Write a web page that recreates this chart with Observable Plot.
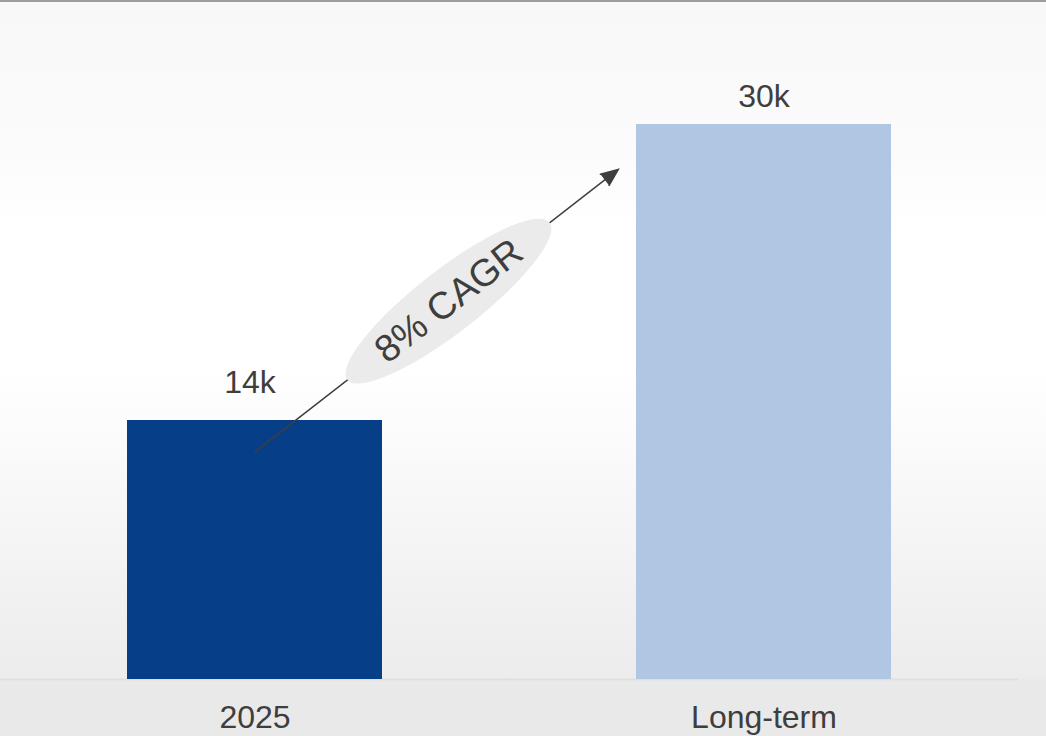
<!DOCTYPE html>
<html>
<head>
<meta charset="utf-8">
<script src="https://cdn.jsdelivr.net/npm/d3@7"></script>
<script src="https://cdn.jsdelivr.net/npm/@observablehq/plot@0.6"></script>
<style>
  html, body { margin: 0; padding: 0; background: #ffffff; }
  #chart { position: relative; width: 1046px; height: 736px; overflow: hidden; }
  #topline { position: absolute; left: 0; top: 0; width: 1046px; height: 2px; background: #9c9c9c; }
</style>
</head>
<body>
<div id="chart"><div id="topline"></div></div>
<script>
// ---- data ----
const categories = ["2025", "Long-term"];
const values = [14, 30];               // thousands
const valueLabels = ["14k", "30k"];
const barColors = ["#063f87", "#b0c6e2"];
const cagrLabel = "8% CAGR";
// arrow annotation, in value units (thousands)
const cagrFrom = 12.3;
const cagrTo = 33.7;
const cagrMid = 20.45;

const table = categories.map((c, i) => ({category: c, value: values[i], label: valueLabels[i]}));

const angle = -37.87; // degrees, direction of the CAGR arrow
const th = angle * Math.PI / 180;
const ca = Math.cos(th), sa = Math.sin(th);
const ellA = 128, ellB = 31.5, k = 0.5523;
const rot = (x, y) => [x * ca - y * sa, x * sa + y * ca];
const ellipseSymbol = {
  draw(ctx) {
    const P = (x, y) => rot(x, y);
    const a = ellA, b = ellB;
    ctx.moveTo(...P(a, 0));
    ctx.bezierCurveTo(...P(a, k * b), ...P(k * a, b), ...P(0, b));
    ctx.bezierCurveTo(...P(-k * a, b), ...P(-a, k * b), ...P(-a, 0));
    ctx.bezierCurveTo(...P(-a, -k * b), ...P(-k * a, -b), ...P(0, -b));
    ctx.bezierCurveTo(...P(k * a, -b), ...P(a, -k * b), ...P(a, 0));
    ctx.closePath();
  }
};

const font = "'Liberation Sans', Arial, Helvetica, sans-serif";
const ink = "#3e3e3e";

const chart = Plot.plot({
  width: 1046,
  height: 736,
  marginLeft: 0,
  marginRight: 28,
  marginTop: 0,
  marginBottom: 57,
  style: {
    background: "linear-gradient(to bottom, #f8f8f8 0px, #fbfbfb 150px, #ffffff 230px, #ffffff 370px, #f6f6f6 520px, #ececec 678px, #e9e9e9 682px, #e9e9e9 736px)",
    fontFamily: font,
    color: ink,
    overflow: "visible"
  },
  x: {domain: categories, range: [0, 1018], paddingInner: 0.5, paddingOuter: 0.25},
  y: {domain: [0, 30], range: [679, 124], axis: null},
  color: {domain: categories, range: barColors},
  marks: [
    Plot.ruleY([0], {stroke: "#dfdfdf", strokeWidth: 2}),
    Plot.barY(table, {x: "category", y: "value", fill: "category"}),
    Plot.axisX({tickSize: 0, tickPadding: 26, fontSize: 32, label: null, fill: ink}),
    Plot.text([table[0]], {x: "category", y: "value", text: "label", fontSize: 32, fill: ink, dy: -38, dx: -5}),
    Plot.text([table[1]], {x: "category", y: "value", text: "label", fontSize: 32, fill: ink, dy: -28}),
    Plot.arrow([{}], {
      x1: () => categories[0], y1: () => cagrFrom,
      x2: () => categories[1], y2: () => cagrTo,
      insetEnd: 184.6,
      stroke: ink, fill: ink, strokeWidth: 1.5,
      headLength: 18.5, headAngle: 45,
      strokeLinejoin: "miter", strokeMiterlimit: 10
    }),
    Plot.dot([{}], {x: () => categories[0], y: () => cagrMid, dx: 193.5, symbol: ellipseSymbol, r: 5, fill: "#ebebeb", stroke: "none"}),
    Plot.text([cagrLabel], {x: () => categories[0], y: () => cagrMid, dx: 194, text: d => d, rotate: angle, fontSize: 38, fill: ink})
  ]
});
document.getElementById("chart").prepend(chart);
</script>
</body>
</html>
